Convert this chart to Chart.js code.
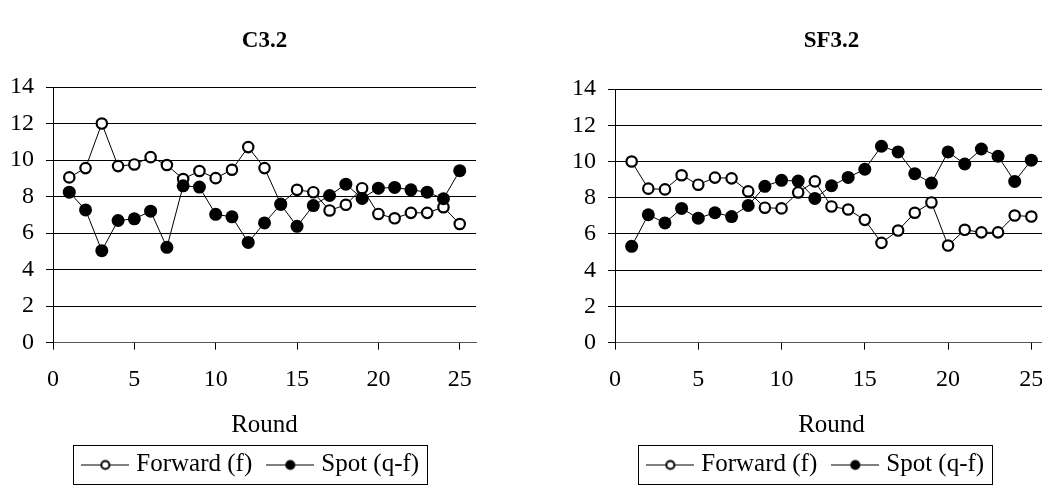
<!DOCTYPE html>
<html>
<head>
<meta charset="utf-8">
<title>C3.2 / SF3.2</title>
<script src="https://cdn.jsdelivr.net/npm/chart.js@4.4.0/dist/chart.umd.min.js"></script>
<style>
    html, body { margin: 0; padding: 0; background: #fff; overflow: hidden; width: 1042px; height: 487px; }
    .chart-box { position: absolute; top: 0; height: 487px; }
    #boxC { left: 0; width: 516px; }
    #boxSF { left: 562px; width: 520px; }
</style>
</head>
<body>
<div class="chart-box" id="boxC"><canvas id="chartC"></canvas></div>
<div class="chart-box" id="boxSF"><canvas id="chartSF"></canvas></div>
<script>
// 数据
const rounds = [1, 2, 3, 4, 5, 6, 7, 8, 9, 10, 11, 12, 13, 14, 15, 16, 17, 18, 19, 20, 21, 22, 23, 24, 25];
const seriesNames = ['Forward (f)', 'Spot (q-f)'];
const xTicks = [0, 5, 10, 15, 20, 25];
const yTicks = [0, 2, 4, 6, 8, 10, 12, 14];

const c32Forward = [9.05, 9.56, 12.0, 9.67, 9.76, 10.16, 9.73, 8.96, 9.4, 9.01, 9.47, 10.71, 9.56, 7.6, 8.37, 8.24, 7.24, 7.55, 8.46, 7.05, 6.81, 7.11, 7.11, 7.42, 6.5];
const c32Spot = [8.24, 7.27, 5.04, 6.69, 6.78, 7.2, 5.22, 8.59, 8.52, 7.03, 6.89, 5.49, 6.56, 7.57, 6.37, 7.51, 8.06, 8.68, 7.9, 8.46, 8.5, 8.37, 8.24, 7.88, 9.42];

const sf32Forward = [10.0, 8.5, 8.46, 9.24, 8.72, 9.11, 9.07, 8.35, 7.45, 7.41, 8.29, 8.9, 7.52, 7.35, 6.78, 5.51, 6.19, 7.17, 7.74, 5.36, 6.23, 6.09, 6.09, 7.02, 6.96];
const sf32Spot = [5.32, 7.06, 6.61, 7.41, 6.87, 7.17, 6.96, 7.57, 8.63, 8.96, 8.92, 7.96, 8.66, 9.12, 9.57, 10.84, 10.53, 9.33, 8.81, 10.53, 9.86, 10.69, 10.29, 8.9, 10.07];

const FONT = "'Liberation Serif', 'Times New Roman', serif";

// 图例图标：线段 + 圆点
function makeLegendIcon(filled) {
    const c = document.createElement('canvas');
    c.width = 48;
    c.height = 14;
    const g = c.getContext('2d');
    g.strokeStyle = '#000';
    g.lineWidth = 1;
    g.beginPath();
    g.moveTo(0, 7.5);
    g.lineTo(48, 7.5);
    g.stroke();
    g.beginPath();
    g.arc(24, 7.5, filled ? 5 : 4, 0, Math.PI * 2);
    g.fillStyle = filled ? '#000' : '#fff';
    g.fill();
    if (!filled) {
        g.lineWidth = 2;
        g.stroke();
    }
    return c;
}

// 图例位置微调 + 边框
const legendFrame = {
    id: 'legendFrame',
    afterLayout(chart, args, opts) {
        const lg = chart.legend;
        if (!lg) return;
        lg.left += opts.dx || 0;
        lg.right += opts.dx || 0;
        lg.top += opts.dy || 0;
        lg.bottom += opts.dy || 0;
    },
    afterDraw(chart) {
        const boxes = chart.legend && chart.legend.legendHitBoxes;
        if (!boxes || !boxes.length) return;
        const first = boxes[0];
        const last = boxes[boxes.length - 1];
        const ctx = chart.ctx;
        const x0 = Math.round(first.left - 14) + 0.5;
        const x1 = Math.round(last.left + last.width + 8) + 0.5;
        const y0 = Math.round(first.top - 7.5) + 0.5;
        const y1 = Math.round(first.top + first.height + 7) + 0.5;
        ctx.save();
        ctx.strokeStyle = '#000';
        ctx.lineWidth = 1;
        ctx.strokeRect(x0, y0, x1 - x0, y1 - y0);
        ctx.restore();
    }
};

function toPoints(values) {
    return rounds.map((r, i) => ({ x: r, y: values[i] }));
}

function buildChart(canvasId, title, forward, spot, layout) {
    const ctx = document.getElementById(canvasId);
    return new Chart(ctx, {
        type: 'line',
        data: {
            datasets: [{
                label: seriesNames[0],
                data: toPoints(forward),
                borderColor: '#000',
                borderWidth: 1,
                pointRadius: 5.2,
                pointBorderWidth: 2.2,
                pointBackgroundColor: '#fff',
                pointBorderColor: '#000',
                pointStyle: 'circle',
                order: 1
            }, {
                label: seriesNames[1],
                data: toPoints(spot),
                borderColor: '#000',
                borderWidth: 1,
                pointRadius: 6.5,
                pointBorderWidth: 0,
                pointBackgroundColor: '#000',
                pointBorderColor: '#000',
                pointStyle: 'circle',
                order: 0
            }]
        },
        options: {
            responsive: true,
            maintainAspectRatio: false,
            devicePixelRatio: 1,
            animation: false,
            events: [],
            layout: {
                padding: { left: 10, right: layout.padRight, top: 0, bottom: -8 }
            },
            scales: {
                x: {
                    type: 'linear',
                    min: 0,
                    max: 26,
                    afterBuildTicks: function(scale) {
                        scale.ticks = xTicks.map(v => ({ value: v }));
                    },
                    ticks: {
                        color: '#000',
                        font: { family: FONT, size: 24 },
                        padding: 16,
                        maxRotation: 0,
                        autoSkip: false
                    },
                    grid: {
                        drawOnChartArea: false,
                        drawTicks: true,
                        tickLength: 7,
                        color: '#000'
                    },
                    border: { display: true, color: '#555', width: 1 },
                    title: {
                        display: true,
                        text: 'Round',
                        color: '#000',
                        font: { family: FONT, size: 25 },
                        padding: { top: 0, bottom: 0 }
                    }
                },
                y: {
                    min: 0,
                    max: 14,
                    afterBuildTicks: function(scale) {
                        scale.ticks = yTicks.map(v => ({ value: v }));
                    },
                    afterFit: function(scale) {
                        scale.width = 43;
                    },
                    ticks: {
                        color: '#000',
                        font: { family: FONT, size: 24 },
                        padding: 12
                    },
                    grid: {
                        drawTicks: true,
                        tickLength: 7,
                        color: '#000',
                        lineWidth: 1
                    },
                    border: { display: true, color: '#000', width: 1 }
                }
            },
            plugins: {
                title: {
                    display: true,
                    fullSize: false,
                    text: title,
                    color: '#000',
                    font: { family: FONT, size: 23, weight: 'bold' },
                    padding: { top: 27, bottom: layout.titleGap }
                },
                legend: {
                    display: true,
                    position: 'bottom',
                    labels: {
                        color: '#000',
                        font: { family: FONT, size: 25 },
                        usePointStyle: true,
                        pointStyleWidth: 37,
                        padding: 19.5,
                        sort: (a, b) => a.datasetIndex - b.datasetIndex,
                        generateLabels: function(chart) {
                            return chart.data.datasets.map((ds, i) => ({
                                text: ds.label,
                                datasetIndex: i,
                                pointStyle: makeLegendIcon(i === 1),
                                fillStyle: '#000',
                                strokeStyle: '#000',
                                lineWidth: 0,
                                fontColor: '#000',
                                hidden: false
                            }));
                        }
                    }
                },
                legendFrame: { dx: layout.legendDx, dy: -8 },
                tooltip: { enabled: false }
            }
        },
        plugins: [legendFrame]
    });
}

let chartC = null;
let chartSF = null;

document.addEventListener('DOMContentLoaded', function() {
    chartC = buildChart('chartC', 'C3.2', c32Forward, c32Spot, { padRight: 40, titleGap: 32.4, legendDx: 10 });
    chartSF = buildChart('chartSF', 'SF3.2', sf32Forward, sf32Spot, { padRight: 34, titleGap: 34.4, legendDx: 8 });
});
</script>
</body>
</html>
